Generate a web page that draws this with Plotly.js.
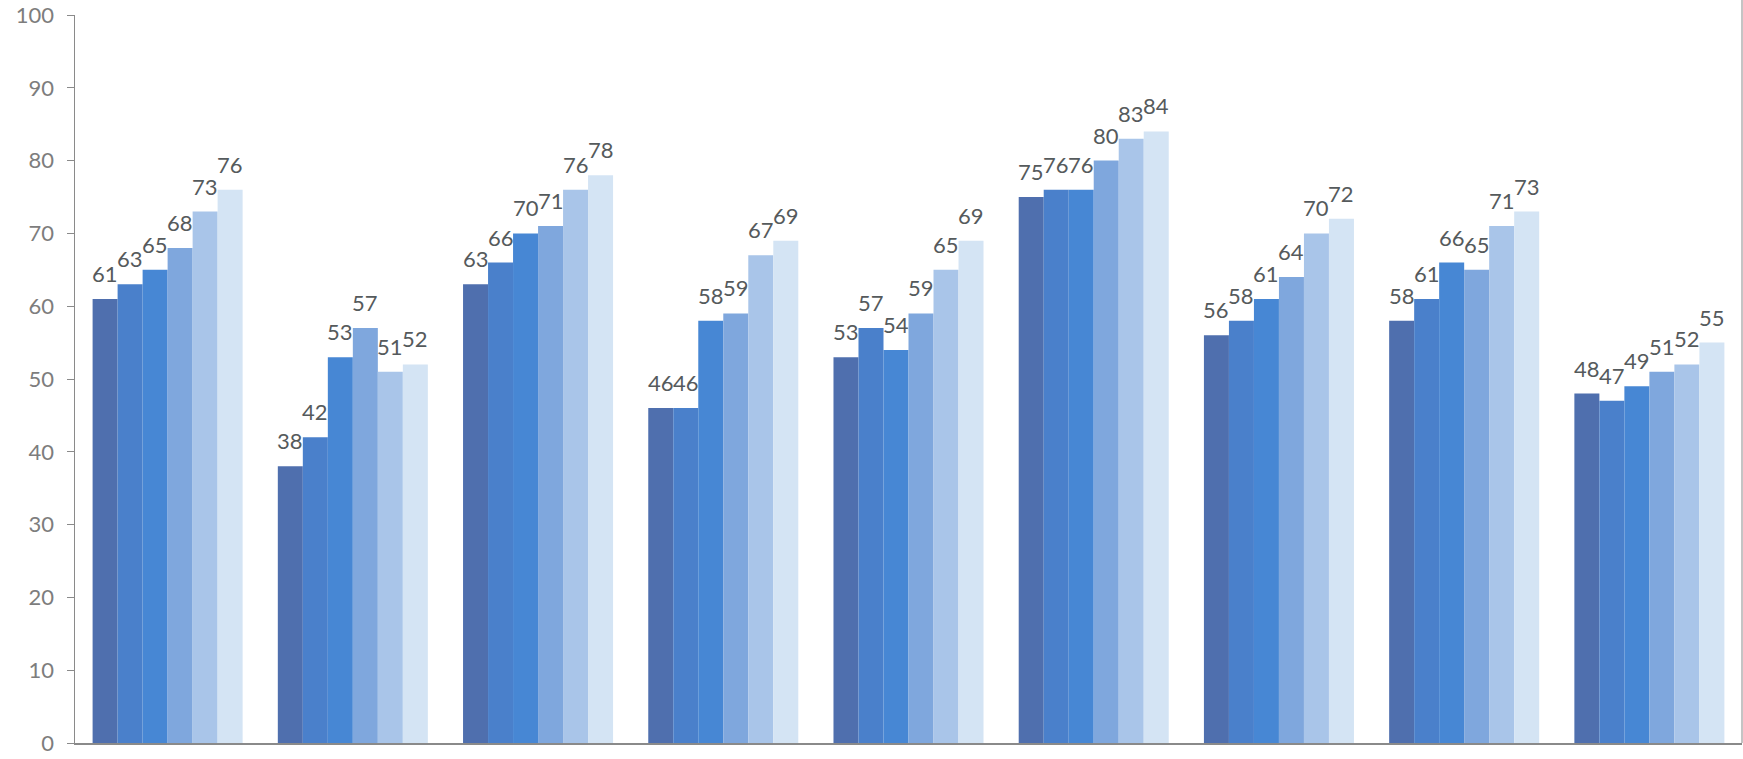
<!DOCTYPE html>
<html>
<head>
<meta charset="utf-8">
<script src="https://cdn.plot.ly/plotly-3.0.1.min.js"></script>
<style>html,body{margin:0;padding:0;background:#fff;}#chart{width:1743px;height:759px;}</style>
</head>
<body>
<div id="chart"></div>
<script>
var categories = ["G1", "G2", "G3", "G4", "G5", "G6", "G7", "G8", "G9"];
var series1 = [61, 38, 63, 46, 53, 75, 56, 58, 48];
var series2 = [63, 42, 66, 46, 57, 76, 58, 61, 47];
var series3 = [65, 53, 70, 58, 54, 76, 61, 66, 49];
var series4 = [68, 57, 71, 59, 59, 80, 64, 65, 51];
var series5 = [73, 51, 76, 67, 65, 83, 70, 71, 52];
var series6 = [76, 52, 78, 69, 69, 84, 72, 73, 55];
var seriesNames = ["S1", "S2", "S3", "S4", "S5", "S6"];
var yTicks = [0, 10, 20, 30, 40, 50, 60, 70, 80, 90, 100];

var allSeries = [series1, series2, series3, series4, series5, series6];
var colors = ["#4f6fae", "#4a80cb", "#4787d4", "#7fa7dd", "#a9c5e9", "#d4e4f4"];

var W = 1743, H = 759;
var M = { l: 75, r: 1, t: 15, b: 16, pad: 0 };
var BARGAP = 0.19;
var nSeries = allSeries.length;
var catPx = (W - M.l - M.r) / categories.length;
var barPx = catPx * (1 - BARGAP) / nSeries;

var traces = allSeries.map(function (vals, i) {
  return {
    type: "bar",
    name: seriesNames[i],
    x: categories,
    y: vals,
    marker: { color: colors[i], line: { width: 0 } },
    hoverinfo: "x+y"
  };
});

var annotations = [];
allSeries.forEach(function (vals, i) {
  vals.forEach(function (v, j) {
    annotations.push({
      x: categories[j],
      y: v,
      xref: "x",
      yref: "y",
      text: String(v),
      showarrow: false,
      xanchor: "center",
      yanchor: "bottom",
      xshift: (i - (nSeries - 1) / 2) * barPx,
      yshift: 11,
      borderpad: 0,
      font: { family: "Lato, 'Open Sans', sans-serif", size: 22, color: "#555a5c" }
    });
  });
});

var layout = {
  width: W,
  height: H,
  margin: M,
  paper_bgcolor: "#ffffff",
  plot_bgcolor: "#ffffff",
  barmode: "group",
  bargap: BARGAP,
  bargroupgap: 0,
  showlegend: false,
  xaxis: {
    type: "category",
    categoryarray: categories,
    range: [-0.5, categories.length - 0.5],
    showticklabels: false,
    showgrid: false,
    zeroline: false,
    showline: true,
    linecolor: "#8a8a8a",
    linewidth: 1.5,
    ticks: ""
  },
  yaxis: {
    range: [0, 100],
    tickvals: yTicks,
    showgrid: false,
    zeroline: false,
    showline: true,
    linecolor: "#8a8a8a",
    linewidth: 1.5,
    ticks: "outside",
    ticklen: 7,
    tickcolor: "#8a8a8a",
    ticklabelstandoff: 8,
    ticklabeloverflow: "allow",
    tickfont: { family: "Lato, 'Open Sans', sans-serif", size: 22, color: "#7d7d7d" }
  },
  annotations: annotations,
  shapes: [
    { type: "line", xref: "paper", yref: "paper", x0: 1, x1: 1, y0: 0, y1: 1.03,
      line: { color: "#b0b0b0", width: 1.5 } }
  ]
};

Plotly.newPlot("chart", traces, layout, { displayModeBar: false, staticPlot: true });
</script>
</body>
</html>
